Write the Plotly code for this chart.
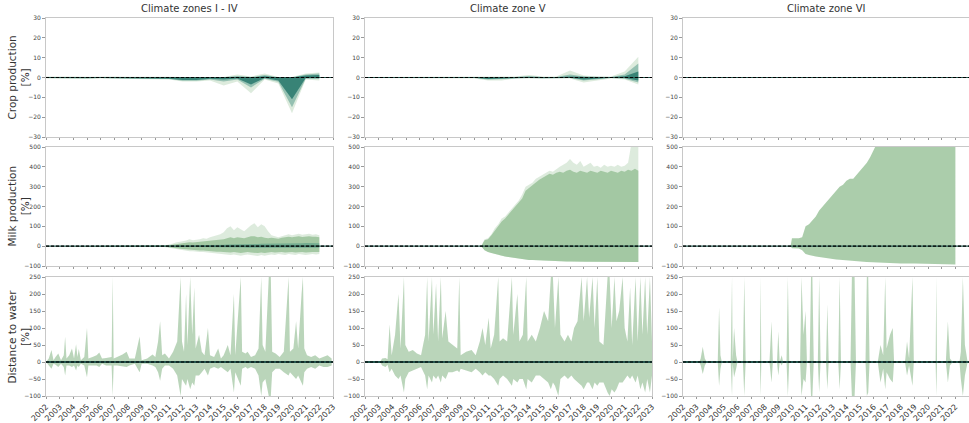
import plotly.graph_objects as go
from plotly.subplots import make_subplots

# ---------------- data ----------------
zones = ["Climate zones I - IV", "Climate zone V", "Climate zone VI"]
row_labels = ["Crop production<br>[%]", "Milk production<br>[%]", "Distance to water<br>[%]"]
year_ticks = list(range(2002, 2024))
year_labels = [str(y) for y in year_ticks]

# Crop production (annual values)
crop_x = [2002, 2003, 2004, 2005, 2006, 2007, 2008, 2009, 2010, 2011, 2012,
          2013, 2014, 2015, 2016, 2017, 2018, 2019, 2020, 2021, 2022]
crop1_out_hi = [0.5, 0.6, 0.5, 0.4, 0.6, 0.5, 0.4, 0.5, 0.6, 0.4, 0.3, 0.3, 0.3, 0.3, 1.5, 0.5, 2.0, 0.3, 0.3, 2.0, 2.5]
crop1_out_lo = [-0.5, -0.6, -0.5, -0.7, -0.5, -0.6, -0.5, -0.5, -0.6, -1.0, -2.0, -2.0, -1.5, -4.0, -2.0, -8.0, -1.0, -3.0, -18.0, -1.0, -1.5]
crop1_mid_hi = [0.3, 0.4, 0.3, 0.2, 0.4, 0.3, 0.2, 0.3, 0.4, 0.2, 0.1, 0.1, 0.1, 0.1, 0.8, 0.2, 1.2, 0.1, 0.1, 1.5, 2.0]
crop1_mid_lo = [-0.3, -0.4, -0.3, -0.5, -0.3, -0.4, -0.3, -0.3, -0.4, -0.8, -1.6, -1.6, -1.0, -2.0, -1.0, -5.0, -0.6, -2.2, -15.0, -0.6, -0.8]
crop1_in_hi = [0.1, 0.2, 0.1, 0.1, 0.2, 0.1, 0.1, 0.1, 0.2, 0.0, 0.0, 0.0, 0.0, 0.0, 0.3, 0.0, 0.6, 0.0, 0.0, 1.0, 1.2]
crop1_in_lo = [-0.2, -0.3, -0.2, -0.3, -0.2, -0.3, -0.2, -0.2, -0.3, -0.6, -1.3, -1.3, -0.6, -1.0, -0.5, -3.5, -0.3, -1.5, -11.0, -0.2, -0.2]

crop2_out_hi = [0.3, 0.3, 0.4, 0.3, 0.3, 0.4, 0.3, 0.3, 0.5, 0.5, 0.3, 0.5, 1.2, 0.5, 0.5, 3.5, 1.0, 0.5, 0.5, 3.0, 10.5]
crop2_out_lo = [-0.3, -0.3, -0.4, -0.3, -0.3, -0.4, -0.3, -0.3, -0.5, -1.5, -1.5, -0.5, -0.5, -0.8, -0.5, -0.5, -2.5, -1.5, -0.5, -1.0, -3.5]
crop2_mid_hi = [0.2, 0.2, 0.2, 0.2, 0.2, 0.2, 0.2, 0.2, 0.3, 0.3, 0.2, 0.3, 0.8, 0.3, 0.3, 1.5, 0.5, 0.3, 0.3, 1.5, 7.0]
crop2_mid_lo = [-0.2, -0.2, -0.2, -0.2, -0.2, -0.2, -0.2, -0.2, -0.3, -1.0, -0.8, -0.3, -0.3, -0.5, -0.3, -0.3, -1.5, -1.0, -0.3, -0.6, -2.5]
crop2_in_hi = [0.1, 0.1, 0.1, 0.1, 0.1, 0.1, 0.1, 0.1, 0.1, 0.1, 0.1, 0.1, 0.4, 0.1, 0.1, 0.5, 0.2, 0.1, 0.1, 0.6, 3.0]
crop2_in_lo = [-0.1, -0.1, -0.1, -0.1, -0.1, -0.1, -0.1, -0.1, -0.1, -0.7, -0.4, -0.1, -0.1, -0.3, -0.1, -0.1, -1.0, -0.6, -0.1, -0.3, -1.5]

crop3_out_hi = [0.2, 0.2, 0.2, 0.2, 0.2, 0.2, 0.2, 0.2, 0.2, 0.2, 0.2, 0.2, 0.2, 0.2, 0.2, 0.2, 0.2, 0.2, 0.2, 0.2, 0.2]
crop3_out_lo = [-0.2, -0.2, -0.2, -0.2, -0.2, -0.2, -0.2, -0.2, -0.2, -0.2, -0.2, -0.2, -0.2, -0.2, -0.2, -0.2, -0.2, -0.2, -0.2, -0.2, -0.2]

# Milk production, zones I-IV (quarterly from 2010)
milk1_x = [2002.0, 2010.0, 2010.25, 2010.5, 2010.75, 2011.0, 2011.25, 2011.5, 2011.75, 2012.0, 2012.25,
           2012.5, 2012.75, 2013.0, 2013.25, 2013.5, 2013.75, 2014.0, 2014.25, 2014.5, 2014.75,
           2015.0, 2015.25, 2015.5, 2015.75, 2016.0, 2016.25, 2016.5, 2016.75, 2017.0, 2017.25,
           2017.5, 2017.75, 2018.0, 2018.25, 2018.5, 2018.75, 2019.0, 2019.25, 2019.5, 2019.75,
           2020.0, 2020.25, 2020.5, 2020.75, 2021.0, 2021.25, 2021.5, 2021.75, 2022.0]
milk1_out_hi = [0, 0, 2, 3, 5, 8, 12, 18, 20, 25, 28, 35, 30, 32, 35, 40, 38, 45, 50, 55, 60,
                70, 90, 100, 80, 95, 85, 75, 90, 105, 115, 95, 110, 100, 75, 55, 50, 45, 50, 55, 60,
                55, 60, 62, 58, 60, 62, 58, 60, 55]
milk1_mid_hi = [0, 0, 1, 2, 3, 5, 8, 10, 12, 15, 18, 20, 18, 20, 22, 25, 24, 28, 30, 30, 32,
                35, 40, 45, 40, 45, 42, 40, 45, 50, 50, 45, 48, 42, 40, 42, 40, 38, 42, 45, 48,
                45, 48, 50, 46, 48, 50, 47, 48, 45]
milk1_mid_lo = [0, 0, -1, -2, -3, -5, -8, -10, -12, -14, -16, -18, -18, -20, -22, -22, -24, -25, -26, -28, -28,
                -30, -32, -32, -30, -32, -34, -32, -30, -32, -34, -35, -32, -34, -32, -30, -32, -30, -30, -32, -30,
                -30, -32, -30, -30, -32, -30, -30, -30, -30]
milk1_out_lo = [0, 0, -2, -3, -5, -8, -10, -15, -18, -20, -22, -25, -25, -28, -30, -30, -32, -35, -38, -40, -40,
                -42, -45, -45, -42, -45, -48, -45, -42, -45, -48, -50, -45, -48, -45, -42, -45, -40, -42, -45, -40,
                -42, -45, -40, -42, -45, -42, -40, -42, -40]
milk1_in_hi = [0, 0, 0, 0, 0, 1, 1, 2, 2, 2, 3, 3, 3, 4, 4, 5, 5, 6, 6, 6, 7,
               7, 8, 8, 8, 9, 9, 10, 10, 10, 11, 11, 12, 12, 12, 13, 13, 14, 14, 14, 15,
               15, 15, 15, 15, 16, 16, 16, 16, 15]
milk1_in_lo = [0, 0, 0, 0, 0, -1, -1, -2, -2, -2, -3, -3, -3, -4, -4, -4, -5, -5, -5, -6, -6,
               -6, -6, -7, -7, -7, -7, -7, -8, -8, -8, -8, -8, -8, -8, -8, -8, -8, -8, -8, -8,
               -8, -8, -8, -8, -8, -8, -8, -8, -8]

# Milk production, zone V
milk2_x = [2002.0, 2010.5, 2010.75, 2011.0, 2011.25, 2011.5, 2011.75, 2012.0, 2012.25, 2012.5,
           2012.75, 2013.0, 2013.25, 2013.5, 2013.75, 2014.0, 2014.25, 2014.5, 2014.75, 2015.0,
           2015.25, 2015.5, 2015.75, 2016.0, 2016.25, 2016.5, 2016.75, 2017.0, 2017.25, 2017.5,
           2017.75, 2018.0, 2018.25, 2018.5, 2018.75, 2019.0, 2019.25, 2019.5, 2019.75, 2020.0,
           2020.25, 2020.5, 2020.75, 2021.0, 2021.25, 2021.5, 2021.75, 2022.0]
milk2_out_hi = [0, 0, 35, 40, 60, 90, 110, 140, 150, 170, 190, 210, 230, 260, 300, 310, 320, 340, 350, 360,
                370, 380, 375, 390, 400, 410, 420, 440, 420, 410, 430, 400, 410, 420, 400, 405, 395, 410, 400, 405,
                400, 410, 400, 405, 420, 520, 520, 520]
milk2_mid_hi = [0, 0, 30, 35, 55, 80, 100, 125, 140, 160, 180, 200, 215, 240, 280, 295, 305, 320, 335, 345,
                355, 365, 360, 370, 375, 370, 380, 385, 375, 370, 380, 375, 370, 380, 375, 370, 380, 375, 370, 380,
                375, 370, 380, 375, 385, 380, 390, 380]
milk2_lo = [0, 0, -20, -30, -35, -40, -45, -50, -52, -55, -58, -60, -62, -65, -68, -70, -70, -71, -72, -72,
            -73, -74, -75, -75, -76, -76, -77, -77, -78, -78, -78, -79, -79, -79, -79, -80, -80, -80, -80, -80,
            -80, -80, -80, -80, -80, -80, -80, -80]

# Milk production, zone VI
milk3_x = [2002.0, 2009.9, 2010.0, 2010.5, 2010.75, 2011.0, 2011.25, 2011.5, 2011.75, 2012.0,
           2012.25, 2012.5, 2012.75, 2013.0, 2013.25, 2013.5, 2013.75, 2014.0, 2014.25, 2014.5,
           2014.75, 2015.0, 2015.25, 2015.5, 2015.75, 2016.0, 2016.25, 2017.0, 2018.0, 2019.0,
           2020.0, 2021.0, 2022.0]
milk3_hi = [0, 0, 40, 40, 45, 100, 110, 130, 150, 180, 200, 220, 240, 260, 280, 300, 310, 330, 340, 340,
            360, 380, 400, 420, 450, 480, 520, 560, 560, 560, 560, 560, 560]
milk3_lo = [0, 0, -10, -12, -20, -40, -45, -50, -52, -55, -58, -60, -62, -65, -67, -68, -70, -72, -73, -75,
            -76, -78, -79, -80, -81, -82, -83, -85, -87, -88, -89, -90, -92]

# Distance to water, zones I-IV
dist1_x = [2002.0, 2002.2, 2002.4, 2002.55, 2002.7, 2002.9, 2003.1, 2003.3, 2003.4, 2003.5, 2003.7, 2003.9,
           2004.05, 2004.2, 2004.3, 2004.4, 2004.55, 2004.8, 2005.0, 2005.1, 2005.4, 2005.7, 2005.9, 2006.1,
           2006.4, 2006.8, 2006.88, 2006.95, 2007.2, 2007.6, 2007.9, 2008.1, 2008.5, 2008.85, 2009.0, 2009.4,
           2009.8, 2010.0, 2010.2, 2010.35, 2010.5, 2010.7, 2011.0, 2011.3, 2011.6, 2011.85, 2011.95, 2012.1,
           2012.25, 2012.35, 2012.55, 2012.7, 2012.85, 2012.95, 2013.2, 2013.4, 2013.6, 2013.85, 2014.0, 2014.3,
           2014.6, 2014.8, 2015.0, 2015.3, 2015.5, 2015.75, 2015.85, 2016.25, 2016.35, 2016.6, 2016.75, 2017.0,
           2017.3, 2017.55, 2017.75, 2017.85, 2018.05, 2018.3, 2018.45, 2018.55, 2018.8, 2019.1, 2019.4, 2019.75,
           2019.85, 2020.1, 2020.3, 2020.45, 2020.7, 2020.8, 2020.9, 2021.1, 2021.4, 2021.7, 2022.0, 2022.3,
           2022.6, 2022.9]
dist1_hi = [0, 10, 35, 5, 15, 25, 5, 20, 74, 10, 20, 40,
            10, 52, 15, 38, 5, 15, 100, 10, 15, 20, 28, 10,
            12, 15, 250, 10, 15, 22, 30, 10, 10, 75, 5, 10,
            22, 15, 60, 120, 20, 25, 10, 30, 60, 250, 60, 30,
            200, 50, 250, 80, 220, 40, 80, 30, 20, 100, 20, 15,
            40, 10, 20, 50, 20, 200, 20, 250, 30, 25, 30, 15,
            20, 40, 250, 50, 30, 250, 250, 30, 25, 15, 30, 250,
            30, 40, 120, 40, 200, 250, 40, 20, 15, 20, 10, 15,
            20, 10]
dist1_lo = [0, -10, -20, -5, -8, -15, -5, -15, -40, -10, -10, -15,
            -10, -25, -10, -15, -5, -10, -45, -10, -10, -10, -15, -5,
            -10, -10, -100, -10, -10, -12, -15, -10, -5, -30, -5, -5,
            -10, -15, -30, -55, -20, -10, -10, -20, -40, -100, -50, -60,
            -70, -50, -80, -60, -70, -40, -40, -30, -20, -40, -20, -15,
            -20, -15, -20, -30, -20, -90, -30, -70, -20, -15, -20, -15,
            -20, -40, -100, -60, -50, -100, -100, -30, -20, -20, -30, -40,
            -30, -40, -50, -40, -60, -70, -30, -20, -15, -20, -10, -15,
            -15, -10]

# Distance to water, zone V
dist2_x = [2002.0, 2003.1, 2003.25, 2003.5, 2003.65, 2003.8, 2003.95, 2004.2, 2004.45, 2004.6, 2004.85,
           2004.95, 2005.2, 2005.5, 2005.8, 2006.1, 2006.4, 2006.55, 2006.65, 2006.9, 2007.0, 2007.2,
           2007.35, 2007.55, 2007.65, 2007.9, 2008.1, 2008.4, 2008.75, 2008.9, 2009.0, 2009.4, 2009.8,
           2010.1, 2010.4, 2010.6, 2010.8, 2011.05, 2011.2, 2011.45, 2011.75, 2011.85, 2012.1, 2012.4,
           2012.75, 2012.85, 2013.15, 2013.3, 2013.55, 2013.8, 2013.9, 2014.2, 2014.5, 2014.8, 2015.1,
           2015.4, 2015.6, 2015.75, 2015.9, 2016.15, 2016.3, 2016.6, 2016.85, 2017.1, 2017.3, 2017.55,
           2017.85, 2018.0, 2018.25, 2018.4, 2018.65, 2018.8, 2019.0, 2019.15, 2019.45, 2019.75, 2019.9,
           2020.05, 2020.25, 2020.4, 2020.6, 2020.85, 2021.0, 2021.2, 2021.4, 2021.55, 2021.8, 2021.95,
           2022.15, 2022.3, 2022.5, 2022.65, 2022.85, 2023.0]
dist2_hi = [0, 0, 10, 12, 8, 110, 20, 80, 200, 40, 250,
            50, 30, 35, 25, 20, 80, 250, 60, 250, 80, 230,
            60, 250, 70, 150, 60, 50, 40, 250, 20, 30, 35,
            20, 60, 100, 50, 130, 40, 80, 250, 60, 70, 60,
            250, 80, 200, 60, 80, 250, 60, 80, 60, 100, 150,
            120, 250, 250, 100, 250, 80, 60, 80, 60, 100, 120,
            250, 120, 250, 130, 250, 100, 250, 60, 50, 250, 250,
            100, 250, 120, 150, 250, 100, 60, 220, 50, 250, 60,
            250, 80, 250, 80, 250, 60]
dist2_lo = [0, 0, -10, -15, -8, -30, -20, -40, -50, -40, -90,
            -50, -30, -25, -20, -15, -40, -80, -40, -60, -40, -50,
            -40, -60, -40, -50, -30, -30, -25, -30, -20, -25, -30,
            -20, -30, -40, -30, -40, -40, -50, -70, -50, -40, -50,
            -70, -50, -60, -50, -50, -80, -50, -60, -40, -40, -50,
            -60, -80, -60, -70, -100, -50, -40, -50, -40, -50, -60,
            -70, -80, -60, -60, -80, -60, -70, -60, -60, -90, -100,
            -80, -90, -80, -60, -60, -50, -40, -50, -40, -60, -40,
            -80, -60, -90, -50, -90, -40]

# Distance to water, zone VI
dist3_x = [2002.0, 2003.2, 2003.3, 2003.45, 2003.6, 2003.75, 2004.55, 2004.65, 2004.75, 2004.85,
           2005.5, 2005.6, 2005.65, 2005.75, 2005.9, 2006.0, 2006.4, 2006.5, 2006.6, 2007.65,
           2007.7, 2007.75, 2008.35, 2008.5, 2008.6, 2008.9, 2009.0, 2009.1, 2009.25, 2009.35,
           2009.6, 2009.7, 2009.8, 2010.6, 2010.7, 2010.85, 2011.0, 2011.1, 2011.3, 2011.4,
           2011.5, 2011.6, 2011.9, 2012.0, 2012.1, 2012.5, 2012.6, 2012.7, 2013.4, 2013.5,
           2013.6, 2014.3, 2014.4, 2014.6, 2014.7, 2015.4, 2015.5, 2015.6, 2015.7, 2016.3,
           2016.5, 2016.7, 2016.85, 2016.95, 2017.2, 2017.4, 2017.5, 2018.3, 2018.45, 2018.6,
           2018.85, 2018.95, 2020.55, 2020.6, 2020.65, 2021.3, 2021.45, 2021.6, 2021.8, 2022.3,
           2022.4, 2022.55, 2022.7, 2022.9]
dist3_hi = [0, 0, 10, 45, 10, 0, 0, 160, 20, 0,
            0, 250, 5, 100, 20, 0, 0, 250, 0, 0,
            250, 0, 0, 120, 0, 0, 90, 0, 20, 0,
            0, 250, 0, 0, 250, 80, 150, 0, 0, 250,
            250, 0, 0, 250, 0, 0, 170, 0, 0, 250,
            0, 0, 250, 250, 0, 0, 250, 250, 0, 0,
            50, 20, 250, 40, 80, 100, 0, 0, 60, 10,
            250, 0, 0, 250, 0, 0, 120, 10, 0, 0,
            30, 250, 50, 0]
dist3_lo = [0, 0, -10, -35, -10, 0, 0, -70, -20, 0,
            0, -100, -5, -45, -20, 0, 0, -100, 0, 0,
            -100, 0, 0, -60, 0, 0, -40, 0, -10, 0,
            0, -100, 0, 0, -100, -50, -60, 0, 0, -100,
            -100, 0, 0, -90, 0, 0, -80, 0, 0, -80,
            0, 0, -100, -100, 0, 0, -100, -90, 0, 0,
            -60, -20, -80, -30, -50, -60, 0, 0, -40, -10,
            -70, 0, 0, -100, 0, 0, -60, -10, 0, 0,
            -50, -100, -40, 0]

# ---------------- styling ----------------
FONT = "DejaVu Sans"
LIGHT = "rgba(143,188,143,0.30)"
GREEN = "rgba(143,188,143,0.75)"
TEAL_MID = "rgba(60,140,125,0.45)"
TEAL = "rgba(40,120,108,0.85)"
DARK = "#24574f"
DIST_FILL = "rgba(143,188,143,0.62)"

W, H = 969, 423
col_px = [(46, 333), (365, 652), (683, 969)]
row_px = [(18, 137), (147, 266), (277, 396)]
y_ranges = [[-30, 30], [-100, 500], [-100, 250]]
y_dticks = [10, 100, 50]

fig = make_subplots(rows=3, cols=3)


def band(x, lo, hi, color, row, col):
    fig.add_trace(go.Scatter(x=x, y=lo, mode="lines", line=dict(width=0, color=color),
                             showlegend=False, hoverinfo="skip"), row=row, col=col)
    fig.add_trace(go.Scatter(x=x, y=hi, mode="lines", line=dict(width=0, color=color),
                             fill="tonexty", fillcolor=color, showlegend=False,
                             hoverinfo="skip"), row=row, col=col)


# crop
band(crop_x, crop1_out_lo, crop1_out_hi, LIGHT, 1, 1)
band(crop_x, crop1_mid_lo, crop1_mid_hi, TEAL_MID, 1, 1)
band(crop_x, crop1_in_lo, crop1_in_hi, TEAL, 1, 1)
band(crop_x, crop2_out_lo, crop2_out_hi, LIGHT, 1, 2)
band(crop_x, crop2_mid_lo, crop2_mid_hi, TEAL_MID, 1, 2)
band(crop_x, crop2_in_lo, crop2_in_hi, TEAL, 1, 2)
band(crop_x, crop3_out_lo, crop3_out_hi, TEAL_MID, 1, 3)

# milk
band(milk1_x, milk1_out_lo, milk1_out_hi, LIGHT, 2, 1)
band(milk1_x, milk1_mid_lo, milk1_mid_hi, GREEN, 2, 1)
band(milk1_x, milk1_in_lo, milk1_in_hi, TEAL_MID, 2, 1)
band(milk2_x, milk2_lo, milk2_out_hi, LIGHT, 2, 2)
band(milk2_x, milk2_lo, milk2_mid_hi, GREEN, 2, 2)
band(milk3_x, milk3_lo, milk3_hi, GREEN, 2, 3)

# distance
band(dist1_x, dist1_lo, dist1_hi, DIST_FILL, 3, 1)
band(dist2_x, dist2_lo, dist2_hi, DIST_FILL, 3, 2)
band(dist3_x, dist3_lo, dist3_hi, DIST_FILL, 3, 3)

for r in range(1, 4):
    for c in range(1, 4):
        fig.add_hline(y=0, line=dict(color=DARK, width=2.2 if r == 3 else 1.2), row=r, col=c)
        fig.add_hline(y=0, line=dict(color="black", width=1.2, dash="3px,2px"), row=r, col=c)

for r in range(3):
    for c in range(3):
        n = r * 3 + c + 1
        sx = "" if n == 1 else str(n)
        x0, x1 = col_px[c]
        y0, y1 = row_px[r]
        fig.layout["xaxis" + sx].update(
            domain=[x0 / W, min(x1 / W, 1.0)], range=[2002, 2023],
            tickvals=year_ticks, ticktext=year_labels, tickangle=-45,
            showticklabels=(r == 2), ticks="outside", ticklen=2, tickcolor="#999",
            showline=True, linecolor="#c8c8c8", linewidth=1, mirror=True,
            showgrid=False, zeroline=False, automargin=False,
            tickfont=dict(family=FONT, size=8, color="#333333"))
        fig.layout["yaxis" + sx].update(
            domain=[1 - y1 / H, 1 - y0 / H], range=y_ranges[r], dtick=y_dticks[r],
            ticks="outside", ticklen=3, tickcolor="#999",
            showline=True, linecolor="#c8c8c8", linewidth=1, mirror=True,
            showgrid=False, zeroline=False, automargin=False,
            tickfont=dict(family=FONT, size=6, color="#444444"))

annotations = []
for c in range(3):
    x0, x1 = col_px[c]
    annotations.append(dict(text=zones[c], x=(x0 + x1) / 2 / W, y=1 - 18 / H + 0.004,
                            xref="paper", yref="paper", xanchor="center", yanchor="bottom",
                            showarrow=False, font=dict(family=FONT, size=10, color="#333333")))
for r in range(3):
    y0, y1 = row_px[r]
    annotations.append(dict(text=row_labels[r], x=18 / W, y=1 - (y0 + y1) / 2 / H,
                            xref="paper", yref="paper", xanchor="center", yanchor="middle",
                            textangle=-90, showarrow=False,
                            font=dict(family=FONT, size=10.5, color="#333333")))

fig.update_layout(width=W, height=H, margin=dict(l=0, r=0, t=0, b=0, autoexpand=False),
                  paper_bgcolor="white", plot_bgcolor="white", showlegend=False,
                  annotations=annotations)

fig.write_html("out.html", config={"displayModeBar": False},
               post_script="document.body.style.margin='0';document.body.style.padding='0';"
                           "document.body.style.overflow='hidden';")
